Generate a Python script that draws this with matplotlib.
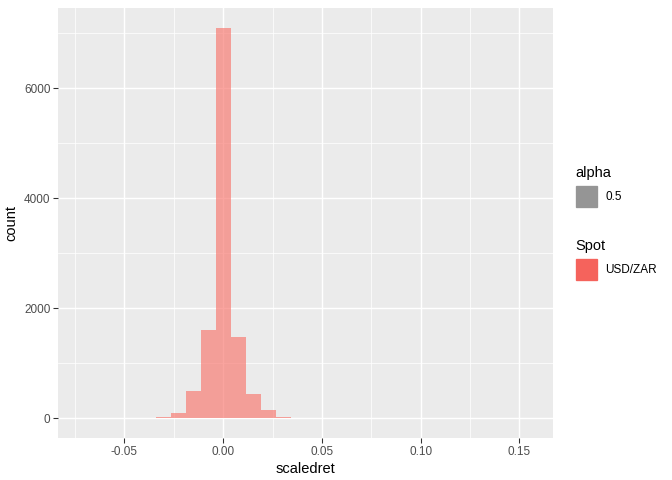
import numpy as np
import matplotlib.pyplot as plt
from matplotlib.patches import Rectangle

plt.rcParams['font.family'] = ['Liberation Sans', 'DejaVu Sans']

# histogram: 30 bins
x_min = -0.07226
x_max = 0.15568
counts = [1, 0, 2, 3, 8, 30, 103, 503, 1612, 7103, 1485, 449, 158, 30, 12, 6, 3, 2,
          1, 0, 0, 0, 0, 0, 0, 0, 0, 0, 0, 1]
edges = np.linspace(x_min, x_max, len(counts) + 1)

x_ticks = [-0.05, 0.00, 0.05, 0.10, 0.15]
x_ticklabels = ['-0.05', '0.00', '0.05', '0.10', '0.15']
y_ticks = [0, 2000, 4000, 6000]

fill = '#F8766D'
panel_bg = '#EBEBEB'

fig = plt.figure(figsize=(7, 5), dpi=96)
ax = fig.add_axes([58/672, 1 - 438/480, (553-58)/672, (438-8)/480])
ax.set_facecolor(panel_bg)

ax.bar(edges[:-1], counts, width=np.diff(edges), align='edge', color=fill,
       alpha=0.66, linewidth=0, zorder=3)

span = x_max - x_min
ax.set_xlim(x_min - 0.05*span, x_max + 0.05*span)
ymax = max(counts)
ax.set_ylim(-0.05*ymax, 1.05*ymax)

ax.set_xticks(x_ticks)
ax.set_xticklabels(x_ticklabels)
ax.set_yticks(y_ticks)
ax.set_xticks([-0.075, -0.025, 0.025, 0.075, 0.125], minor=True)
ax.set_yticks([1000, 3000, 5000, 7000], minor=True)
ax.grid(which='major', color='white', linewidth=1.1, zorder=0)
ax.grid(which='minor', color='white', linewidth=0.55, zorder=0)
ax.set_axisbelow(True)
for s in ax.spines.values():
    s.set_visible(False)
ax.tick_params(which='major', length=3.7, width=0.8, color='#333333',
               labelcolor='#4D4D4D', labelsize=8.8, pad=2)
ax.tick_params(which='minor', length=0)

ax.set_xlabel('scaledret', fontsize=11, labelpad=3)
ax.set_ylabel('count', fontsize=11, labelpad=4)

# legends
fig.text(575/672, 1 - 173/480, 'alpha', fontsize=11, va='center', ha='left')
fig.add_artist(Rectangle((576/672, 1 - 207/480), 21/672, 21/480,
                         transform=fig.transFigure, color='#959595'))
fig.text(605/672, 1 - 197/480, '0.5', fontsize=8.8, va='center', ha='left')

fig.text(575/672, 1 - 246/480, 'Spot', fontsize=11, va='center', ha='left')
fig.add_artist(Rectangle((576/672, 1 - 280/480), 21/672, 21/480,
                         transform=fig.transFigure, color='#F5635C'))
fig.text(605/672, 1 - 270/480, 'USD/ZAR', fontsize=8.8, va='center', ha='left')

fig.savefig('out.png', dpi=96)
